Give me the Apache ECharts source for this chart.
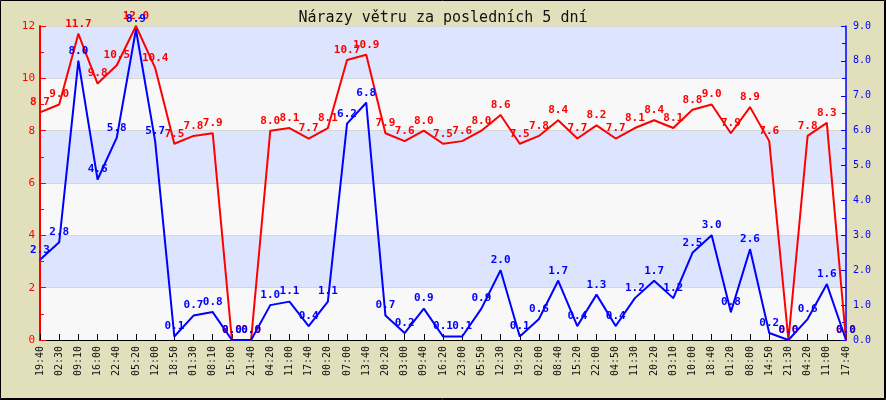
<!DOCTYPE html>
<html>
<head>
<meta charset="utf-8">
<script src="https://cdn.jsdelivr.net/npm/echarts@6/dist/echarts.min.js"></script>
<style>
html,body{margin:0;padding:0;background:#e2e0bc;}
#c{width:886px;height:400px;}
</style>
</head>
<body>
<div id="c"></div>
<script>
var categories = ["19:40","02:30","09:10","16:00","22:40","05:20","12:00","18:50","01:30","08:10","15:00","21:40","04:20","11:00","17:40","00:20","07:00","13:40","20:20","03:00","09:40","16:20","23:00","05:50","12:30","19:20","02:00","08:40","15:20","22:00","04:50","11:30","20:20","03:10","10:00","18:40","01:20","08:00","14:50","21:30","04:20","11:00","17:40"];
var gustValues = [8.7,9.0,11.7,9.8,10.5,12.0,10.4,7.5,7.8,7.9,0.0,0.0,8.0,8.1,7.7,8.1,10.7,10.9,7.9,7.6,8.0,7.5,7.6,8.0,8.6,7.5,7.8,8.4,7.7,8.2,7.7,8.1,8.4,8.1,8.8,9.0,7.9,8.9,7.6,0.0,7.8,8.3,0.0];
var secondValues = [2.3,2.8,8.0,4.6,5.8,8.9,5.7,0.1,0.7,0.8,0.0,0.0,1.0,1.1,0.4,1.1,6.2,6.8,0.7,0.2,0.9,0.1,0.1,0.9,2.0,0.1,0.6,1.7,0.4,1.3,0.4,1.2,1.7,1.2,2.5,3.0,0.8,2.6,0.2,0.0,0.6,1.6,0.0];
var titleText = "Nárazy větru za posledních 5 dní";

var chart = echarts.init(document.getElementById('c'));
var mono = "'DejaVu Sans Mono', monospace";
chart.setOption({
  backgroundColor: '#e2e0bc',
  animation: false,
  title: {
    text: titleText, left: 'center', top: 6,
    textStyle: {fontFamily: mono, fontSize: 15, fontWeight: 'normal', color: '#111'}
  },
  grid: {left: 40, right: 40, top: 26, bottom: 60},
  xAxis: {
    type: 'category', data: categories, boundaryGap: false,
    axisLine: {lineStyle: {color: '#000', width: 1}},
    axisTick: {inside: true, length: 6, lineStyle: {color: '#000'}, alignWithLabel: true},
    axisLabel: {rotate: 90, interval: 0, fontFamily: mono, fontSize: 10, color: '#111', margin: 6},
    splitLine: {show: false}
  },
  yAxis: [{
    type: 'value', min: 0, max: 12, interval: 2, position: 'left',
    axisLine: {show: true, lineStyle: {color: '#ff0000', width: 2}},
    axisTick: {show: true, inside: true, length: 6, lineStyle: {color: '#ff0000'}},
    minorTick: {show: true, splitNumber: 2, length: 4, lineStyle: {color: '#ff0000'}},
    axisLabel: {fontFamily: mono, fontSize: 11, color: '#ff0000', margin: 5},
    splitLine: {show: true, lineStyle: {color: '#d6d6d6', width: 1}},
    splitArea: {show: true, areaStyle: {color: ['#f8f8f8', '#dde4fd']}}
  }, {
    type: 'value', min: 0, max: 9, interval: 1, position: 'right',
    axisLine: {show: true, lineStyle: {color: '#0000ff', width: 1.5}},
    axisTick: {show: true, inside: true, length: 5, lineStyle: {color: '#0000ff'}},
    minorTick: {show: true, splitNumber: 2, length: 4, lineStyle: {color: '#0000ff'}},
    axisLabel: {fontFamily: mono, fontSize: 10, color: '#0000ff', margin: 7,
      formatter: function(v){return v.toFixed(1);}},
    splitLine: {show: false}
  }],
  series: [{
    type: 'line', data: gustValues, yAxisIndex: 0,
    symbol: 'rect', symbolSize: 1, showSymbol: true,
    lineStyle: {color: '#ff0000', width: 2},
    itemStyle: {color: '#ff0000'},
    label: {show: true, position: 'top', distance: 4, color: '#ff0000',
      fontFamily: mono, fontSize: 11, fontWeight: 'bold',
      formatter: function(p){return p.value.toFixed(1);}},
    labelLayout: {hideOverlap: false}
  }, {
    type: 'line', data: secondValues, yAxisIndex: 1,
    symbol: 'rect', symbolSize: 1, showSymbol: true,
    lineStyle: {color: '#0000ff', width: 2},
    itemStyle: {color: '#0000ff'},
    label: {show: true, position: 'top', distance: 4, color: '#0000ff',
      fontFamily: mono, fontSize: 11, fontWeight: 'bold',
      formatter: function(p){return p.value.toFixed(1);}},
    labelLayout: {hideOverlap: false}
  }],
  graphic: [
    {type: 'rect', shape: {x: 0.5, y: 0.5, width: 884, height: 398}, style: {fill: 'none', stroke: '#000', lineWidth: 1}, z: 100},
    {type: 'polyline', shape: {points: [[885.5, 0], [885.5, 399.5], [0, 399.5]]}, style: {fill: 'none', stroke: '#000', lineWidth: 1}, z: 100}
  ]
});
</script>
</body>
</html>
